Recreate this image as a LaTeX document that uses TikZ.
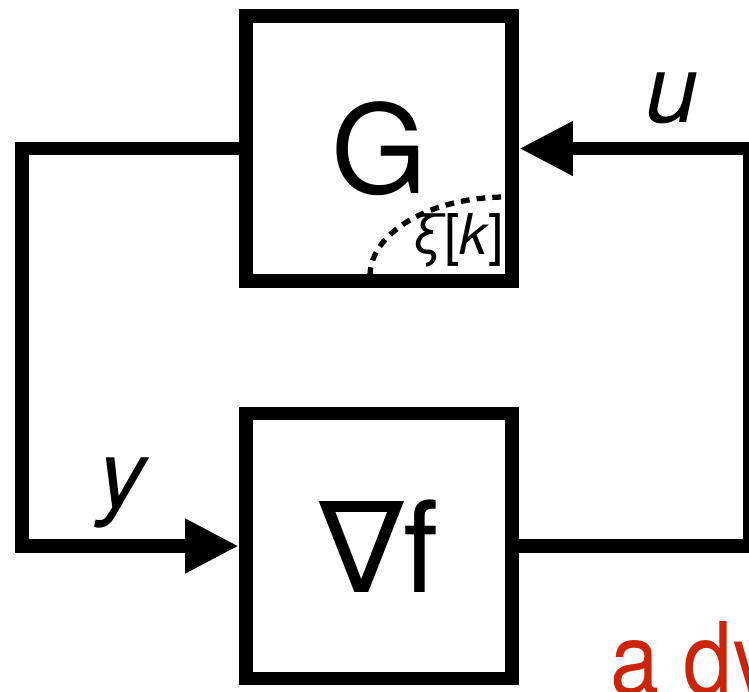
\documentclass[tikz,border=0pt]{standalone}
\usepackage{fontspec}
\usepackage{tikz}
\usetikzlibrary{arrows.meta,positioning}
\newfontfamily\blockfont{TeX Gyre Heros}
\newfontfamily\capfont[FakeStretch=0.88]{TeX Gyre Heros}
\newfontfamily\nablafont{DejaVu Sans}
\definecolor{dynred}{RGB}{204,36,8}

\begin{document}
\begin{tikzpicture}[x=0.02cm,y=-0.02cm,>={Triangle[length=30.6pt,width=29pt]},
  blk/.style={draw,line width=7.9pt,minimum width=5.33cm,minimum height=5.3cm,inner sep=0pt},
  wire/.style={line width=7.9pt},
  sig/.style={inner sep=0pt,font=\blockfont\itshape\fontsize{54}{54}\selectfont}]
  \useasboundingbox (0,0) rectangle (749,691);
  \clip (0,0) rectangle (749,691);
  % the two blocks
  \node[blk] (G) at (379,148.5) {\blockfont\fontsize{70}{70}\selectfont G};
  \node[blk] (gradf) at (379,546) {\fontsize{72}{72}\selectfont{\nablafont ∇}{\blockfont f}};
  % internal state
  \draw[line width=3pt,dash pattern=on 5pt off 4pt] (370,276)
    arc[start angle=180,end angle=270,x radius=136,y radius=79];
  \node[inner sep=0pt] (xi) at (458,240)
    {\blockfont\fontsize{32}{32}\selectfont{\itshape ξ}[{\itshape k}]};
  % feedback loop
  \coordinate (lt) at (22,148.5);
  \coordinate (rb) at (750,546);
  \draw[wire,->] (G.west) -- (lt) |- (gradf.west);
  \draw[wire,->] (gradf.east) -- (rb) |- (G.east);
  \node[sig] (u) at (672,98) {u};
  \node[sig] (y) at (122,493) {y};
  % caption, cut by the frame
  \node[anchor=base west,inner sep=0pt,text=dynred] (dyn) at (610,694)
    {\capfont\fontsize{57}{57}\selectfont a dy};
\end{tikzpicture}
\end{document}
